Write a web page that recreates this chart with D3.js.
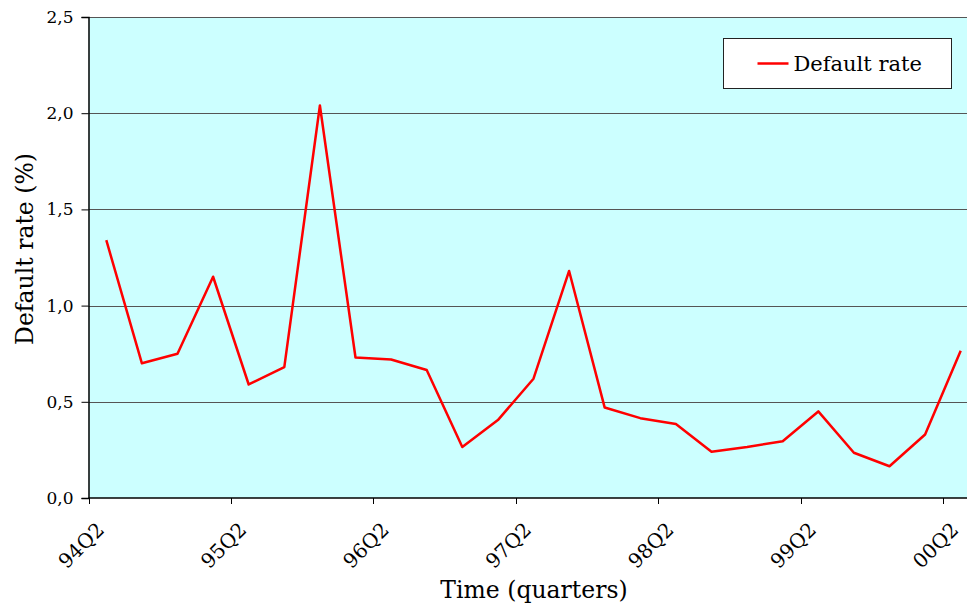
<!DOCTYPE html>
<html>
<head>
<meta charset="utf-8">
<script src="https://cdn.jsdelivr.net/npm/d3@7"></script>
<style>
  body { margin: 0; background: #fff; }
  text { font-family: "DejaVu Serif", "Liberation Serif", serif; fill: #000; }
</style>
</head>
<body>
<svg id="chart" width="967" height="604"></svg>
<script>
// quarters from 94Q2 to 00Q2
var quarters = ["94Q2","94Q3","94Q4","95Q1","95Q2","95Q3","95Q4","96Q1","96Q2","96Q3","96Q4","97Q1",
                "97Q2","97Q3","97Q4","98Q1","98Q2","98Q3","98Q4","99Q1","99Q2","99Q3","99Q4","00Q1","00Q2"];
var defaultRate = [1.34, 0.70, 0.75, 1.15, 0.59, 0.68, 2.04, 0.73, 0.72, 0.665, 0.265, 0.405,
                   0.62, 1.18, 0.47, 0.415, 0.385, 0.24, 0.265, 0.295, 0.45, 0.235, 0.165, 0.33, 0.765];
var yTicks = [0, 0.5, 1.0, 1.5, 2.0, 2.5];
var labelledQuarters = ["94Q2","95Q2","96Q2","97Q2","98Q2","99Q2","00Q2"];

var svg = d3.select("#chart");
var plotLeft = 88.5, plotTop = 17, plotBottom = 498, catW = 35.6;

var x = d3.scaleBand().domain(quarters).range([plotLeft, plotLeft + catW * quarters.length]);
var y = d3.scaleLinear().domain([0, 2.5]).range([plotBottom, plotTop]);
var fmt = function (d) { return d3.format(".1f")(d).replace(".", ","); };

// plot background
svg.append("rect")
    .attr("x", plotLeft).attr("y", plotTop)
    .attr("width", x.range()[1] - plotLeft).attr("height", plotBottom - plotTop)
    .attr("fill", "#CCFFFF");

// gridlines
svg.append("g").selectAll("line")
    .data(yTicks.filter(function (d) { return d > 0; }))
    .enter().append("line")
    .attr("x1", plotLeft).attr("x2", x.range()[1])
    .attr("y1", function (d) { return Math.round(y(d)) + 0.5; })
    .attr("y2", function (d) { return Math.round(y(d)) + 0.5; })
    .attr("stroke", "#555").attr("stroke-width", 1);

// y axis
var yAxis = svg.append("g")
    .attr("transform", "translate(" + plotLeft + ",0)")
    .call(d3.axisLeft(y).tickValues(yTicks).tickFormat(fmt).tickSize(7).tickPadding(8));
yAxis.select(".domain").attr("stroke", "#000").attr("stroke-width", 1.5);
yAxis.selectAll(".tick line").attr("stroke", "#000");
yAxis.selectAll("text").style("font-size", "17px")
    .style("font-family", "'DejaVu Serif', serif");

// x axis (ticks between categories, every 4 quarters)
var xAxis = svg.append("g").attr("transform", "translate(0," + plotBottom + ")");
xAxis.append("line")
    .attr("x1", plotLeft).attr("x2", x.range()[1])
    .attr("stroke", "#000").attr("stroke-width", 1.5);
xAxis.selectAll(".xt")
    .data(labelledQuarters)
    .enter().append("line")
    .attr("class", "xt")
    .attr("x1", function (d) { return Math.round(x(d)) + 0.5; })
    .attr("x2", function (d) { return Math.round(x(d)) + 0.5; })
    .attr("y1", 0).attr("y2", 6)
    .attr("stroke", "#000");
xAxis.selectAll(".xl")
    .data(labelledQuarters)
    .enter().append("text")
    .attr("class", "xl")
    .attr("transform", function (d) {
        return "translate(" + (x(d) + 7) + ",23) rotate(-45)";
    })
    .attr("text-anchor", "end")
    .attr("dy", "0.7em")
    .style("font-size", "20px")
    .text(function (d) { return d; });

// line
var line = d3.line()
    .x(function (d, i) { return x(quarters[i]) + x.bandwidth() / 2; })
    .y(function (d) { return y(d); });
svg.append("path")
    .datum(defaultRate)
    .attr("d", line)
    .attr("fill", "none")
    .attr("stroke", "#FF0000")
    .attr("stroke-width", 2.5)
    .attr("stroke-linejoin", "round");

// axis titles
svg.append("text")
    .attr("x", 534).attr("y", 598)
    .attr("text-anchor", "middle")
    .style("font-size", "23.5px")
    .text("Time (quarters)");
svg.append("text")
    .attr("transform", "translate(33,249) rotate(-90)")
    .attr("text-anchor", "middle")
    .style("font-size", "23.5px")
    .text("Default rate (%)");

// legend
var lg = svg.append("g").attr("transform", "translate(723.5,38.5)");
lg.append("rect")
    .attr("width", 228).attr("height", 50)
    .attr("fill", "#fff").attr("stroke", "#222").attr("stroke-width", 1);
lg.append("line")
    .attr("x1", 34).attr("x2", 65).attr("y1", 25).attr("y2", 25)
    .attr("stroke", "#FF0000").attr("stroke-width", 2.5);
lg.append("text")
    .attr("x", 70).attr("y", 32)
    .style("font-size", "21px")
    .text("Default rate");
</script>
</body>
</html>
